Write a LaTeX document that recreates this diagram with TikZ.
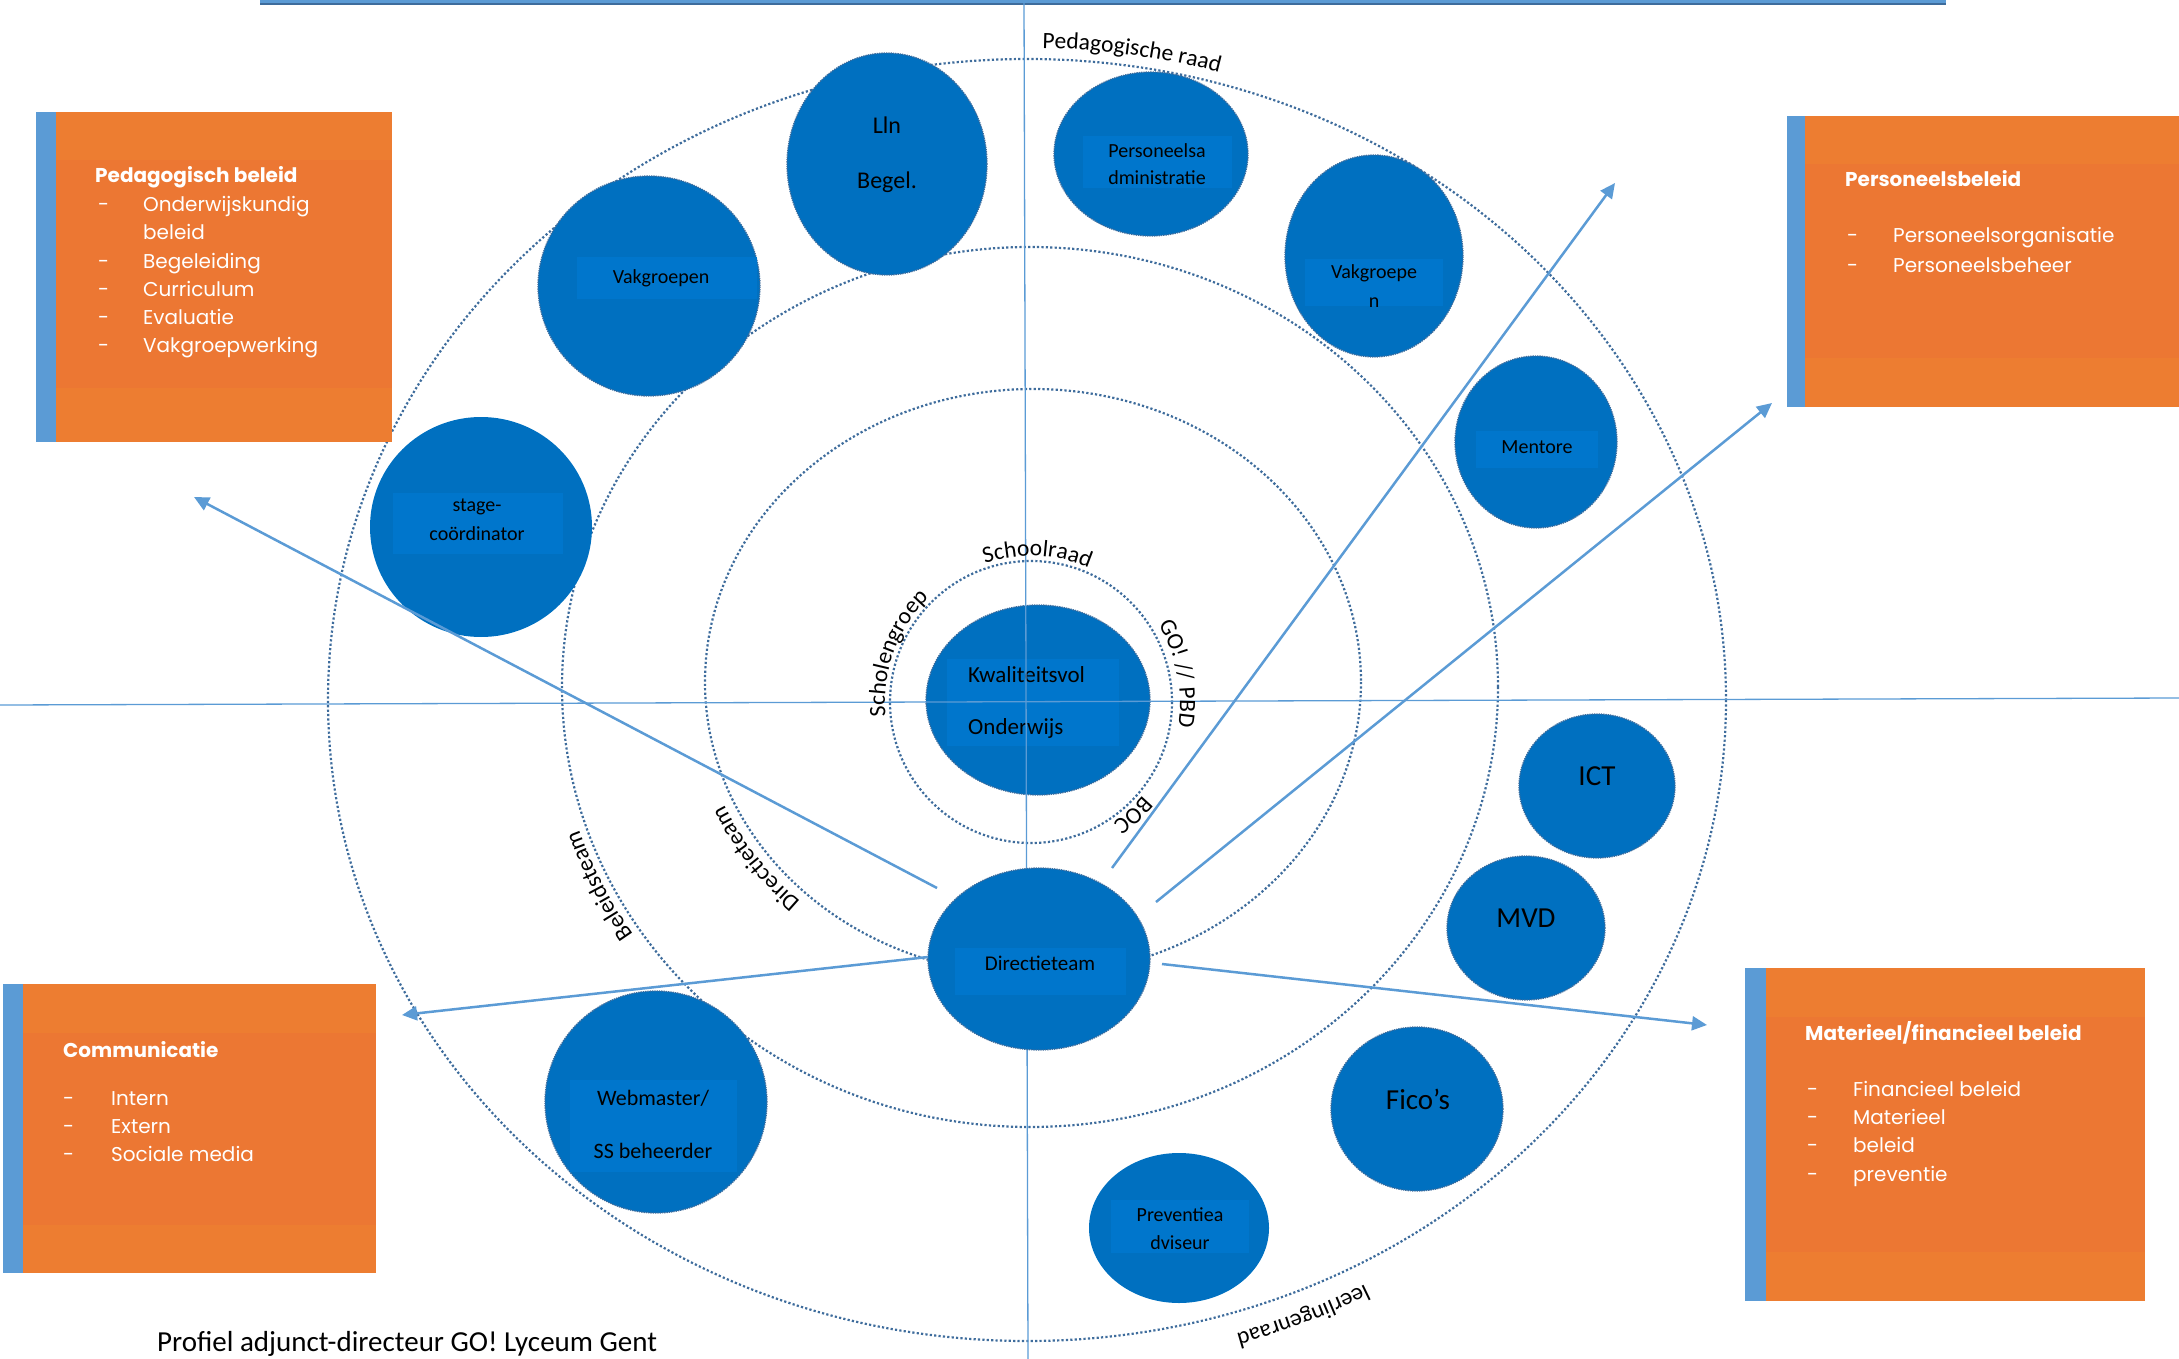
\documentclass[tikz,border=0pt]{standalone}
\usepackage{fontspec}
\setmainfont{Carlito}
\newfontfamily\gothic{Poppins}
\usetikzlibrary{shapes.geometric,decorations.text,arrows.meta}
\definecolor{nodeblue}{HTML}{0070C0}
\definecolor{tboxblue}{HTML}{0076CC}
\definecolor{ringcol}{HTML}{3E6C9C}
\definecolor{linecol}{HTML}{5B9BD5}
\definecolor{orA}{HTML}{ED7D31}
\definecolor{orB}{HTML}{EC7733}
\definecolor{barcol}{HTML}{5B9BD5}
\newcommand\fsz[1]{\fontsize{#1}{#1}\selectfont}
\newcommand\lblfont{\fontsize{23.5}{23.5}\selectfont}
\newcommand\arclabel[7]{\path[decorate,decoration={text along path,text align=center,text={|\lblfont|#7}}] (#1,#2) ++(#5:#3 and #4) arc[start angle=#5,end angle=#6,x radius=#3,y radius=#4];}
\tikzset{
 ring/.style={draw=ringcol, line width=2.2pt, dash pattern=on 2.2pt off 2.2pt},
 bnode/.style={ellipse, fill=nodeblue, draw=ringcol, line width=1.3pt, densely dotted, inner sep=0pt},
 pnode/.style={ellipse, fill=nodeblue, inner sep=0pt},
 tbox/.style={fill=tboxblue},
 ntext/.style={font=\fsz{20}, text=black, inner sep=0pt},
 btext/.style={font=\fsz{29}, text=black, inner sep=0pt},
 cross/.style={draw=linecol, line width=1.3pt},
 arr/.style={draw=linecol, line width=2.5pt, -{Triangle[length=15pt,width=14pt]}},
 ttl/.style={font=\gothic\bfseries\fsz{20}, text=white, inner sep=0pt, anchor=base west},
 itm/.style={font=\gothic\fsz{20}, text=white, inner sep=0pt, anchor=base west},
}
\begin{document}
\begin{tikzpicture}[x=1pt,y=-1pt]
\useasboundingbox (0,0) rectangle (2179,1359);
% top bar
\fill[linecol] (260,-10) rectangle (1946,4);
\draw[draw=ringcol, line width=2pt] (260,4) -- (1946,4);
% rings
\draw[ring] (1027,700) ellipse [x radius=699, y radius=641];
\draw[ring] (1030,687) ellipse [x radius=468, y radius=440];
\draw[ring] (1033,682) ellipse [x radius=328, y radius=293];
\draw[ring] (1031,702) ellipse [x radius=141, y radius=141];
% central node
\node[bnode, minimum width=224pt, minimum height=190pt] (kwal) at (1038,700) {};
\fill[tbox] (947,659) rectangle (1119,746);
\node[ntext, font=\fsz{23}, anchor=west] (kwalA) at (968,675) {Kwaliteitsvol};
\node[ntext, font=\fsz{23}, anchor=west] (kwalB) at (968,728) {Onderwijs};
% cross lines
\coordinate (vtop) at (1024,0); \coordinate (vbot) at (1028,1359);
\coordinate (hl) at (0,705); \coordinate (hr) at (2179,698);
\draw[cross] (vtop) -- (vbot);
\draw[cross] (hl) -- (hr);
% nodes
\node[bnode, minimum width=200pt, minimum height=222pt] (lln) at (887,164) {};
\node[ntext, font=\fsz{24}] (llnA) at (887,125) {Lln};
\node[ntext, font=\fsz{24}] (llnB) at (887,182) {Begel.};

\node[bnode, minimum width=222pt, minimum height=220pt] (vakL) at (649,286) {};
\fill[tbox] (577,257) rectangle (757,299);
\node[ntext] (vakLt) at (661,278) {Vakgroepen};

\node[pnode, minimum width=222pt, minimum height=220pt] (stage) at (481,527) {};
\fill[tbox] (393,493) rectangle (563,554);
\node[ntext] (stageA) at (477,507) {stage-};
\node[ntext] (stageB) at (477,534) {coördinator};

\node[bnode, minimum width=194pt, minimum height=164pt] (pers) at (1151,154) {};
\fill[tbox] (1083,136) rectangle (1232,188);
\node[ntext] (persA) at (1157,151) {Personeelsa};
\node[ntext] (persB) at (1157,178) {dministratie};

\node[bnode, minimum width=178pt, minimum height=202pt] (vakR) at (1374,256) {};
\fill[tbox] (1305,259) rectangle (1443,306);
\node[ntext] (vakRA) at (1374,273) {Vakgroepe};
\begin{scope}
\clip (1305,259) rectangle (1443,306);
\node[ntext] (vakRB) at (1374,303) {n};
\end{scope}

\node[bnode, minimum width=162pt, minimum height=172pt] (ment) at (1536,442) {};
\fill[tbox] (1476,431) rectangle (1598,468);
\node[ntext] (mentA) at (1537,447) {Mentore};
\begin{scope}
\clip (1476,431) rectangle (1598,468);
\node[ntext] (mentB) at (1537,476) {n};
\end{scope}

\node[bnode, minimum width=156pt, minimum height=144pt] (ict) at (1597,786) {};
\node[btext] (ictt) at (1597,776) {ICT};
\node[bnode, minimum width=158pt, minimum height=144pt] (mvd) at (1526,928) {};
\node[btext] (mvdt) at (1526,918) {MVD};
\node[bnode, minimum width=172pt, minimum height=164pt] (fico) at (1417,1109) {};
\node[btext] (ficot) at (1418,1099) {Fico’s};

\node[pnode, minimum width=180pt, minimum height=150pt] (prev) at (1179,1228) {};
\fill[tbox] (1111,1200) rectangle (1249,1253);
\node[ntext] (prevA) at (1180,1215) {Preventiea};
\node[ntext] (prevB) at (1180,1243) {dviseur};

\node[bnode, minimum width=222pt, minimum height=222pt] (web) at (656,1102) {};
\fill[tbox] (570,1080) rectangle (737,1172);
\node[ntext, font=\fsz{22}] (webA) at (653,1098) {Webmaster/};
\node[ntext, font=\fsz{22}] (webB) at (653,1151) {SS beheerder};

\node[bnode, minimum width=222pt, minimum height=182pt] (dir) at (1039,959) {};
\fill[tbox] (955,948) rectangle (1126,995);
\node[ntext, font=\fsz{21}] (dirt) at (1040,963) {Directieteam};

% ring labels
\arclabel{1027}{700}{709}{652}{266}{291}{Pedagogische raad}
\arclabel{1031}{702}{146}{146}{240}{305}{Schoolraad}
\arclabel{1031}{702}{146}{146}{165}{235}{Scholengroep}
\arclabel{1031}{702}{149}{149}{314}{384}{GO! // PBD}
\arclabel{1031}{702}{146}{146}{28}{68}{BOC}
\arclabel{1033}{682}{338}{303}{125}{165}{Directieteam}
\arclabel{1030}{687}{476}{448}{139}{169}{Beleidsteam}
\arclabel{1027}{700}{720}{662}{55}{80}{leerlingenraad}

% arrows
\coordinate (a1s) at (937,888); \coordinate (a1e) at (194,497);
\coordinate (a2s) at (1112,868); \coordinate (a2e) at (1615,183);
\coordinate (a3s) at (1156,902); \coordinate (a3e) at (1772,403);
\coordinate (a4s) at (928,957); \coordinate (a4e) at (402,1015);
\coordinate (a5s) at (1162,964); \coordinate (a5e) at (1707,1025);
\draw[arr] (a1s) -- (a1e);
\draw[arr] (a2s) -- (a2e);
\draw[arr] (a3s) -- (a3e);
\draw[arr] (a4s) -- (a4e);
\draw[arr] (a5s) -- (a5e);

% box 1
\fill[barcol] (36,112) rectangle (56,442);
\fill[orA] (56,112) rectangle (392,442);
\fill[orB] (56,160) rectangle (392,388);
\node[ttl] (pbT) at (95,183) {Pedagogisch beleid};
\node[itm] (pb1d) at (98,212) {-}; \node[itm] (pb1) at (143,212) {Onderwijskundig};
\node[itm] (pb1b) at (143,240) {beleid};
\node[itm] (pb2d) at (98,268) {-}; \node[itm] (pb2) at (143,268) {Begeleiding};
\node[itm] (pb3d) at (98,296) {-}; \node[itm] (pb3) at (143,296) {Curriculum};
\node[itm] (pb4d) at (98,324) {-}; \node[itm] (pb4) at (143,324) {Evaluatie};
\node[itm] (pb5d) at (98,352) {-}; \node[itm] (pb5) at (143,352) {Vakgroepwerking};

% box 2
\fill[barcol] (1787,116) rectangle (1805,407);
\fill[orA] (1805,116) rectangle (2179,407);
\fill[orB] (1805,164) rectangle (2179,358);
\node[ttl] (psT) at (1845,187) {Personeelsbeleid};
\node[itm] (ps1d) at (1847,243) {-}; \node[itm] (ps1) at (1893,243) {Personeelsorganisatie};
\node[itm] (ps2d) at (1847,272) {-}; \node[itm] (ps2) at (1893,272) {Personeelsbeheer};

% box 3
\fill[barcol] (3,984) rectangle (23,1273);
\fill[orA] (23,984) rectangle (376,1273);
\fill[orB] (23,1033) rectangle (376,1225);
\node[ttl] (cmT) at (63,1057) {Communicatie};
\node[itm] (cm1d) at (63,1105) {-}; \node[itm] (cm1) at (111,1105) {Intern};
\node[itm] (cm2d) at (63,1133) {-}; \node[itm] (cm2) at (111,1133) {Extern};
\node[itm] (cm3d) at (63,1161) {-}; \node[itm] (cm3) at (111,1161) {Sociale media};

% box 4
\fill[barcol] (1745,968) rectangle (1766,1301);
\fill[orA] (1766,968) rectangle (2145,1301);
\fill[orB] (1766,1017) rectangle (2145,1252);
\node[ttl] (mfT) at (1805,1040) {Materieel/financieel beleid};
\node[itm] (mf1d) at (1807,1096) {-}; \node[itm] (mf1) at (1853,1096) {Financieel beleid};
\node[itm] (mf2d) at (1807,1124) {-}; \node[itm] (mf2) at (1853,1124) {Materieel};
\node[itm] (mf3d) at (1807,1152) {-}; \node[itm] (mf3) at (1853,1152) {beleid};
\node[itm] (mf4d) at (1807,1181) {-}; \node[itm] (mf4) at (1853,1181) {preventie};

% caption
\node[font=\fsz{29}, anchor=base west, inner sep=0pt] (caption) at (157,1351) {Profiel adjunct-directeur GO! Lyceum Gent};
\end{tikzpicture}
\end{document}
